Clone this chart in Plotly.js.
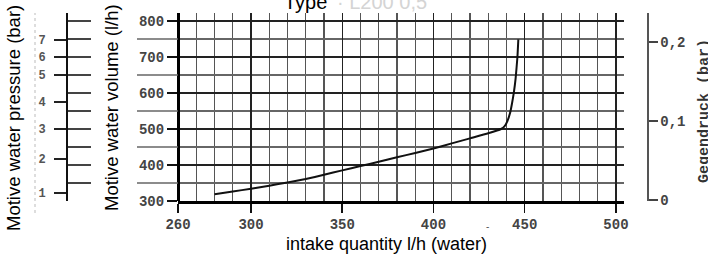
<!DOCTYPE html>
<html>
<head>
<meta charset="utf-8">
<script src="https://cdn.plot.ly/plotly-3.0.1.min.js"></script>
<style>html,body{margin:0;padding:0;background:#fff;}#chart{width:708px;height:255px;}</style>
</head>
<body>
<div id="chart"></div>
<script>
// Curve: intake quantity (l/h water) vs motive water volume (l/h)
const intake = [280, 290, 300, 310, 320, 330, 340, 350, 360, 370, 380, 390, 400, 410, 420, 430, 437, 439, 440.5, 442, 443, 444, 445, 446, 446.5];
const volume = [319, 326.5, 334, 342.5, 351.5, 361, 373, 385, 397, 409, 421.5, 433.5, 446, 460, 474, 488, 500, 508, 522, 545, 570, 600, 640, 700, 749];

// Axis ticks
const xTickVals = [260, 300, 350, 400, 450, 500];
const volumeTickVals = [300, 400, 500, 600, 700, 800];
const volumeHalfVals = [350, 450, 550, 650, 750];
const volumeAllVals = [300, 350, 400, 450, 500, 550, 600, 650, 700, 750, 800];

// Motive water pressure scale (bar), placed at equivalent volume positions
const pressureLabels = ['1', '2', '3', '4', '5', '6', '7'];
const pressureAtVolume = [322, 417, 500, 575, 650, 700, 747];

// Gegendruck scale (bar)
const backPressureVals = [0, 0.1, 0.2];
const backPressureText = ['0', '0,1', '0,2'];

const yRange = [300, 822.2];
const xDom0 = 111 / 580, xDom1 = 557 / 580;
const mono = 'Liberation Mono, DejaVu Sans Mono, monospace';
const sans = 'Liberation Sans, Arial, sans-serif';

function ghost(yax, yv) {
  return {x: [xTickVals[1]], y: [yv], type: 'scatter', mode: 'markers',
    marker: {opacity: 0, size: 1}, hoverinfo: 'skip', showlegend: false, xaxis: 'x', yaxis: yax};
}

const traces = [
  {x: intake, y: volume, type: 'scatter', mode: 'lines',
   line: {color: '#111', width: 2, shape: 'spline', smoothing: 0.4}, hoverinfo: 'skip', showlegend: false,
   xaxis: 'x', yaxis: 'y'},
  ghost('y2', pressureAtVolume[1]),
  ghost('y3', volumeAllVals[2]),
  ghost('y4', backPressureVals[1])
];

// half-step grid lines continue left of the volume axis
const halfExt = volumeHalfVals.map(v => ({
  type: 'line', xref: 'paper', yref: 'y', x0: (137 - 67) / 580, x1: xDom0, y0: v, y1: v,
  line: {color: '#666', width: 1.3}, layer: 'above'
}));

const layout = {
  width: 708, height: 255,
  margin: {l: 67, r: 61, t: 13, b: 54, pad: 0},
  paper_bgcolor: '#fff', plot_bgcolor: '#fff',
  showlegend: false,
  xaxis: {
    domain: [xDom0, xDom1], range: [260, 504.4], anchor: 'y',
    tickvals: xTickVals, ticks: 'outside', ticklen: 9, tickwidth: 1.5, tickcolor: '#111',
    showgrid: true, gridcolor: '#222', gridwidth: 1.4,
    minor: {dtick: 10, tick0: 260, showgrid: true, gridcolor: '#555', gridwidth: 1.1, ticks: ''},
    showline: true, linecolor: '#000', linewidth: 2.5, zeroline: false,
    tickfont: {family: mono, size: 14, color: '#444', weight: 'bold'}
  },
  yaxis: {
    anchor: 'free', position: xDom0, range: yRange, domain: [0, 1],
    tickvals: volumeTickVals, ticks: 'outside', ticklen: 10, tickwidth: 1.5, tickcolor: '#111',
    showgrid: true, gridcolor: '#222', gridwidth: 1.4,
    minor: {tickvals: volumeHalfVals, showgrid: true, gridcolor: '#666', gridwidth: 1.2, ticks: ''},
    showline: true, linecolor: '#000', linewidth: 2.5, zeroline: false,
    tickfont: {family: mono, size: 14, color: '#444', weight: 'bold'}, ticklabelstandoff: 0
  },
  yaxis2: {
    overlaying: 'y', anchor: 'free', position: 0, side: 'left', range: yRange,
    tickvals: pressureAtVolume, ticktext: pressureLabels,
    ticks: 'outside', ticklen: 12, tickwidth: 1.5, tickcolor: '#222',
    showline: true, linecolor: '#111', linewidth: 2, showgrid: false, zeroline: false,
    tickfont: {family: mono, size: 12, color: '#555', weight: 'bold'}, ticklabelstandoff: 6
  },
  yaxis3: {
    overlaying: 'y', anchor: 'free', position: 0, range: yRange,
    tickvals: volumeAllVals, ticks: 'inside', ticklen: 23, tickwidth: 1.3, tickcolor: '#444',
    showticklabels: false, showgrid: false, showline: false, zeroline: false
  },
  yaxis4: {
    overlaying: 'y', anchor: 'free', position: 1, side: 'right', range: [-0.00127, 0.2367],
    tickvals: backPressureVals, ticktext: backPressureText,
    ticks: 'outside', ticklen: 9, tickwidth: 1.3, tickcolor: '#444',
    showline: true, linecolor: '#555', linewidth: 1.5, showgrid: false, zeroline: false,
    tickfont: {family: mono, size: 14, color: '#444', weight: 'bold'}
  },
  shapes: [{
    type: 'line', xref: 'paper', yref: 'paper',
    x0: (35 - 67) / 580, x1: (35 - 67) / 580, y0: -0.0638, y1: 1,
    line: {color: '#bbb', width: 1, dash: 'dot'}
  }].concat(halfExt),
  annotations: [
    {text: 'intake quantity l/h (water)', xref: 'paper', yref: 'paper', x: 0.5517, y: 1 - (244 - 13) / 188,
     xanchor: 'center', yanchor: 'middle', showarrow: false, font: {family: sans, size: 18, color: '#000'}},
    {text: 'Motive water pressure (bar)', xref: 'paper', yref: 'paper', x: -0.0914, y: 0.4415,
     xanchor: 'center', yanchor: 'middle', textangle: -90, showarrow: false, font: {family: sans, size: 18.5, color: '#000'}},
    {text: 'Motive water volume (l/h)', xref: 'paper', yref: 'paper', x: 0.0776, y: 0.4947,
     xanchor: 'center', yanchor: 'middle', textangle: -90, showarrow: false, font: {family: sans, size: 18.5, color: '#000'}},
    {text: 'Gegendruck (bar)', xref: 'paper', yref: 'paper', x: 1.0983, y: 0.4787,
     xanchor: 'center', yanchor: 'middle', textangle: -90, showarrow: false, font: {family: mono, size: 15, color: '#333', weight: 'bold'}},
    {text: 'Type', xref: 'paper', yref: 'paper', x: 0.3707, y: 0.9894,
     xanchor: 'left', yanchor: 'bottom', showarrow: false, font: {family: sans, size: 20, color: '#000'}},
    {text: '· L200 0,5', xref: 'paper', yref: 'paper', x: 0.4621, y: 0.9894,
     xanchor: 'left', yanchor: 'bottom', showarrow: false, font: {family: sans, size: 20, color: '#d4d4d4'}},
    {text: '-', xref: 'paper', yref: 'paper', x: (487 - 67) / 580, y: 1 - (226 - 13) / 188,
     xanchor: 'center', yanchor: 'middle', showarrow: false, font: {family: sans, size: 10, color: '#555'}}
  ]
};

Plotly.newPlot('chart', traces, layout, {displayModeBar: false, staticPlot: true});
</script>
</body>
</html>
